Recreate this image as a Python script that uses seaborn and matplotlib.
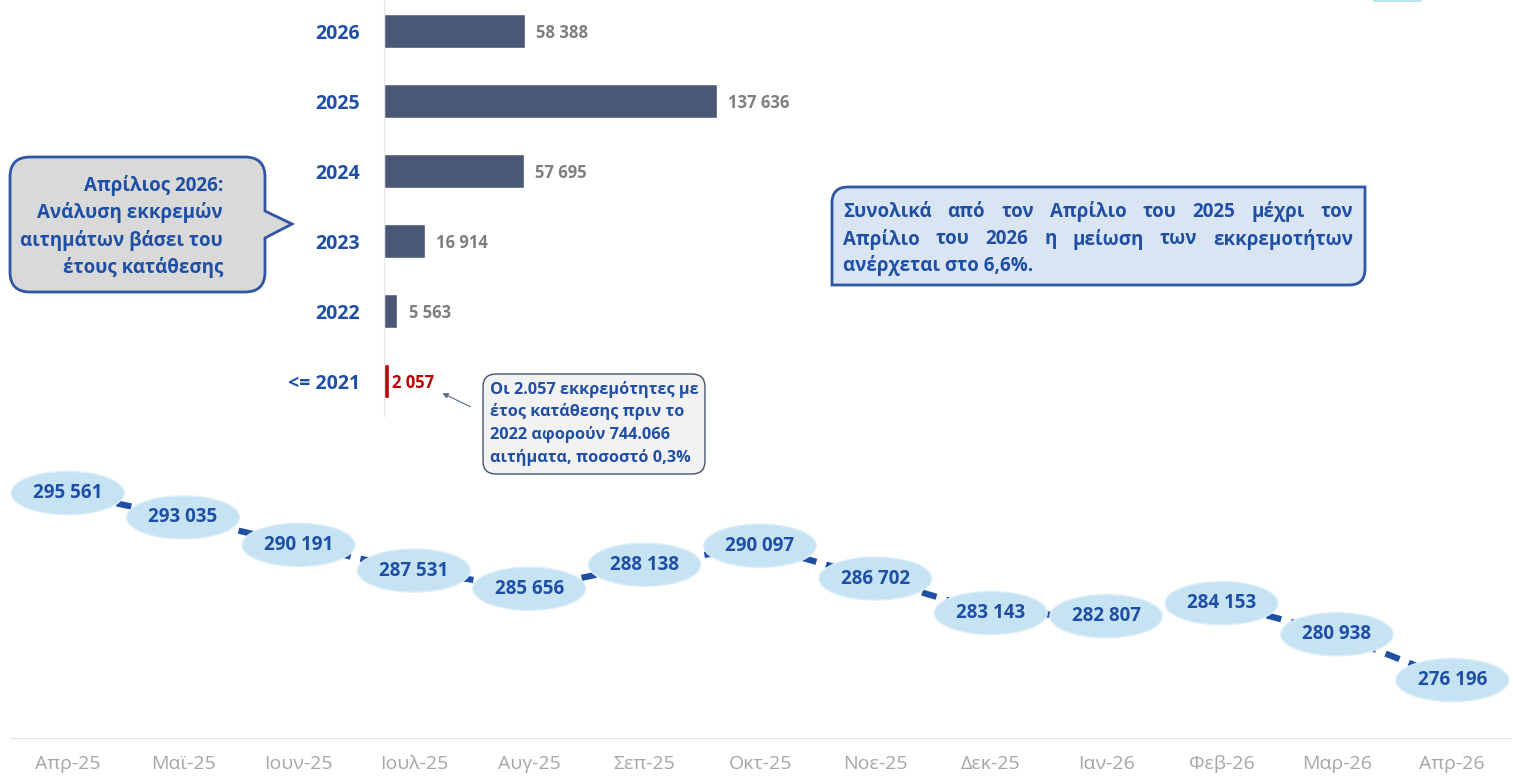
import numpy as np
import pandas as pd
import matplotlib
matplotlib.use("Agg")
import matplotlib.pyplot as plt
import seaborn as sns
from matplotlib.path import Path
from matplotlib.patches import PathPatch, Rectangle
from matplotlib.ticker import FixedLocator

# data: pending applications by year of filing (April 2026)
years = ['2026', '2025', '2024', '2023', '2022', '<= 2021']
pending = [58388, 137636, 57695, 16914, 5563, 2057]

# monthly total of pending applications
months = ['Απρ-25', 'Μαϊ-25', 'Ιουν-25', 'Ιουλ-25', 'Αυγ-25', 'Σεπ-25', 'Οκτ-25',
          'Νοε-25', 'Δεκ-25', 'Ιαν-26', 'Φεβ-26', 'Μαρ-26', 'Απρ-26']
totals = [295561, 293035, 290191, 287531, 285656, 288138, 290097,
          286702, 283143, 282807, 284153, 280938, 276196]

bubble_lines = ['Απρίλιος 2026:', 'Ανάλυση εκκρεμών', 'αιτημάτων βάσει του', 'έτους κατάθεσης']
summary_lines = ['Συνολικά από τον Απρίλιο του 2025 μέχρι τον',
                 'Απρίλιο του 2026 η μείωση των εκκρεμοτήτων',
                 'ανέρχεται στο 6,6%.']
note_lines = ['Οι 2.057 εκκρεμότητες με', 'έτος κατάθεσης πριν το',
              '2022 αφορούν 744.066', 'αιτήματα, ποσοστό 0,3%']

BLUE = '#1f4fa5'
BAR = '#4a5775'
RED = '#c00000'
W, H = 1513, 783

sns.set_style('white')
plt.rcParams['font.family'] = ['Open Sans', 'DejaVu Sans']


def fmt(v):
    return f"{v:,}".replace(',', ' ')


def fx(x, y):
    # pixel position (top-down) -> figure fraction
    return (x / W, 1 - y / H)


def box_path(x0, y0, x1, y1, radii, pointer=None):
    tl, tr, br, bl = radii
    verts = [(x0 + tl, y0), (x1 - tr, y0)]
    codes = [Path.MOVETO, Path.LINETO]
    if tr:
        verts += [(x1, y0), (x1, y0 + tr)]
        codes += [Path.CURVE3, Path.CURVE3]
    if pointer:
        ya, tx, ty, yb = pointer
        verts += [(x1, ya), (tx, ty), (x1, yb)]
        codes += [Path.LINETO] * 3
    verts.append((x1, y1 - br))
    codes.append(Path.LINETO)
    if br:
        verts += [(x1, y1), (x1 - br, y1)]
        codes += [Path.CURVE3, Path.CURVE3]
    verts.append((x0 + bl, y1))
    codes.append(Path.LINETO)
    if bl:
        verts += [(x0, y1), (x0, y1 - bl)]
        codes += [Path.CURVE3, Path.CURVE3]
    verts.append((x0, y0 + tl))
    codes.append(Path.LINETO)
    if tl:
        verts += [(x0, y0), (x0 + tl, y0)]
        codes += [Path.CURVE3, Path.CURVE3]
    verts.append((0, 0))
    codes.append(Path.CLOSEPOLY)
    return Path([fx(*v) for v in verts], codes)


fig = plt.figure(figsize=(W / 100, H / 100), dpi=100)

# ---- bar chart: pending by filing year ----
ax_bar = fig.add_axes([384 / W, 1 - 416 / H, 560 / W, 416 / H])
ax_bar.patch.set_alpha(0)
df_bar = pd.DataFrame({'year': years, 'pending': pending})
palette = {y: (RED if y == '<= 2021' else BAR) for y in years}
sns.barplot(data=df_bar, y='year', x='pending', hue='year', palette=palette,
            orient='h', width=0.49, legend=False, saturation=1, ax=ax_bar)
for cont, (y, v) in zip(ax_bar.containers, zip(years, pending)):
    red = y == '<= 2021'
    lbls = ax_bar.bar_label(cont, labels=[fmt(v)], padding=2 if red else 8,
                            color=RED if red else '#7f7f7f', fontsize=12,
                            fontweight='bold')
    for t in lbls:
        t.set_va('center_baseline')
ax_bar.set_xlim(0, 231460)
ax_bar.set_ylim(5.5, -0.443)
ax_bar.set_xlabel('')
ax_bar.set_ylabel('')
ax_bar.set_xticks([])
for s in ['top', 'right', 'bottom']:
    ax_bar.spines[s].set_visible(False)
ax_bar.spines['left'].set_color('#e6e6e6')
ax_bar.yaxis.set_minor_locator(FixedLocator(np.arange(0.5, 6, 1)))
ax_bar.tick_params(axis='y', which='minor', length=5, color='#e6e6e6', width=1)
ax_bar.tick_params(axis='y', which='major', length=0, pad=17)
for lab in ax_bar.get_yticklabels():
    lab.set_color(BLUE)
    lab.set_fontweight('bold')
    lab.set_fontsize(14)

# ---- line chart: monthly total pending ----
ax_line = fig.add_axes([10 / W, 45 / H, 1500 / W, 298 / H])
ax_line.patch.set_alpha(0)
df_line = pd.DataFrame({'month': months, 'total': totals})
sns.lineplot(data=df_line, x='month', y='total', color=BLUE, lw=4.5,
             linestyle=(0, (2.4, 1.6)), ax=ax_line, zorder=2)
for i, v in enumerate(totals):
    ax_line.text(i, v, fmt(v), ha='center', va='center', color=BLUE,
                 fontsize=13.5, fontweight='bold', zorder=3,
                 bbox=dict(boxstyle='ellipse,pad=0.28', fc='#c5e3f3', ec='#dcedf8', lw=1))
ax_line.set_xlim(-0.5, 12.5)
ax_line.set_ylim(270200, 301050)
ax_line.set_xlabel('')
ax_line.set_ylabel('')
ax_line.set_yticks([])
for s in ['top', 'right', 'left']:
    ax_line.spines[s].set_visible(False)
ax_line.spines['bottom'].set_color('#e3e3e3')
ax_line.xaxis.set_minor_locator(FixedLocator(np.arange(-0.5, 13, 1)))
ax_line.tick_params(axis='x', which='minor', length=7, color='#e3e3e3', width=1)
ax_line.tick_params(axis='x', which='major', length=0, pad=12, labelsize=14,
                    labelcolor='#a6a6a6')

# ---- speech bubble on the left ----
fig.add_artist(PathPatch(box_path(10, 157, 265, 292, (20, 20, 20, 20),
                                  pointer=(211, 292, 224, 238)),
                         transform=fig.transFigure, fc='#d9d9d9', ec='#2f55a4', lw=2))
for k, line in enumerate(bubble_lines):
    fig.text(*fx(223, 185 + 27.6 * k), line, ha='right', va='center',
             color=BLUE, fontsize=13.5, fontweight='bold')

# ---- summary box on the right (justified text) ----
fig.add_artist(PathPatch(box_path(832, 187, 1365, 285, (16, 0, 16, 0)),
                         transform=fig.transFigure, fc='#dae5f3', ec='#2f55a4', lw=2))
renderer = fig.canvas.get_renderer()
x_left, x_right = 843, 1353
for k, line in enumerate(summary_lines):
    y = 212 + 27 * k
    words = line.split()
    if k == len(summary_lines) - 1:
        fig.text(*fx(x_left, y), line, ha='left', va='center', color=BLUE,
                 fontsize=13.5, fontweight='bold')
        continue
    texts = [fig.text(*fx(x_left, y), w, ha='left', va='center', color=BLUE,
                      fontsize=13.5, fontweight='bold') for w in words]
    widths = [t.get_window_extent(renderer).width for t in texts]
    gap = (x_right - x_left - sum(widths)) / (len(words) - 1)
    xpos = x_left
    for t, wd in zip(texts, widths):
        t.set_position(fx(xpos, y))
        xpos += wd + gap

# ---- note box for <= 2021 ----
fig.add_artist(PathPatch(box_path(483, 374, 705, 474, (13, 13, 13, 13)),
                         transform=fig.transFigure, fc='#f2f2f2', ec='#44546a', lw=1))
for k, line in enumerate(note_lines):
    fig.text(*fx(490, 389 + 22.7 * k), line, ha='left', va='center',
             color=BLUE, fontsize=11.7, fontweight='bold')
fig.add_artist(plt.Annotation('', xy=fx(440, 392), xytext=fx(473, 408),
                              xycoords='figure fraction', textcoords='figure fraction',
                              arrowprops=dict(arrowstyle='-|>', color='#5a6a8a', lw=0.8,
                                              mutation_scale=8)))

# small clipped element in the top right corner
fig.add_artist(Rectangle(fx(1373, 2), 49 / W, 2 / H, transform=fig.transFigure,
                         fc='#b7e6ec', ec='none'))

fig.savefig('out.png', dpi=100)
